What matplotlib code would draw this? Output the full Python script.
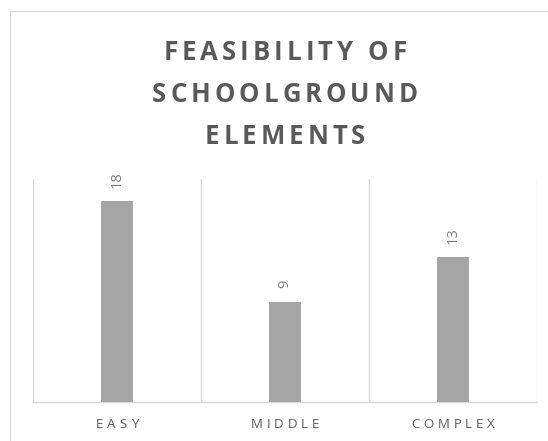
import matplotlib
matplotlib.use("Agg")
import matplotlib.pyplot as plt
import numpy as np
from matplotlib.lines import Line2D
from matplotlib.font_manager import FontProperties

categories = ["EASY", "MIDDLE", "COMPLEX"]
values = [18, 9, 13]
title_lines = ["FEASIBILITY OF", "SCHOOLGROUND", "ELEMENTS"]

W, H = 548, 441
fig = plt.figure(figsize=(W / 100, H / 100), dpi=100)
fig.patch.set_facecolor("white")

ax = fig.add_axes([33 / W, (H - 402) / H, 504 / W, (402 - 179) / H])
x = np.arange(len(categories))
ax.bar(x, values, width=0.185, color="#a5a5a5", zorder=3)
ax.set_xlim(-0.5, len(categories) - 0.5)
ax.set_ylim(0, 20)
ax.set_yticks([])
ax.set_xticks(x)
ax.set_xticklabels([""] * len(categories))
ax.tick_params(axis="x", length=0)
ax.set_xticks(np.arange(len(categories) + 1) - 0.5, minor=True)
ax.tick_params(axis="x", which="minor", length=0)
ax.grid(axis="x", which="minor", color="#d9d9d9", linewidth=1)
for s in ["top", "left", "right"]:
    ax.spines[s].set_visible(False)
ax.spines["bottom"].set_color("#d9d9d9")
ax.spines["bottom"].set_linewidth(1)

for i, v in zip(x, values):
    ax.annotate(str(v), (i, v), xytext=(0, 9.5), textcoords="offset points",
                rotation=90, ha="center", va="bottom", fontsize=10.5,
                color="#7f7f7f", family=["Open Sans", "DejaVu Sans"])

renderer = fig.canvas.get_renderer()


def spaced_text(cx, baseline_y, s, spacing, size, weight, color):
    prop = FontProperties(family=["Open Sans", "DejaVu Sans"], size=size, weight=weight)
    widths = []
    for ch in s:
        w, h, d = renderer.get_text_width_height_descent(ch, prop, ismath=False)
        widths.append(w)
    total = sum(widths) + spacing * (len(s) - 1)
    xpos = cx - total / 2
    for ch, w in zip(s, widths):
        if ch != " ":
            fig.text(xpos / W, 1 - baseline_y / H, ch, fontproperties=prop,
                     color=color, ha="left", va="baseline")
        xpos += w + spacing


title_cx = 285
for line, base in zip(title_lines, [60, 101.7, 143.5]):
    spaced_text(title_cx, base, line, 4.0, 18.5, "bold", "#595959")

for i, c in zip(x, categories):
    cx = ax.transData.transform((i, 0))[0]
    spaced_text(cx, 428.5, c, 4.0, 9.5, "normal", "#595959")

fig.add_artist(Line2D([9.5 / W, 9.5 / W], [0, 1 - 10.5 / H],
                      transform=fig.transFigure, color="#d9d9d9", linewidth=1))
fig.add_artist(Line2D([9.5 / W, 1], [1 - 10.5 / H, 1 - 10.5 / H],
                      transform=fig.transFigure, color="#d9d9d9", linewidth=1))

fig.savefig("out.png", dpi=100)
